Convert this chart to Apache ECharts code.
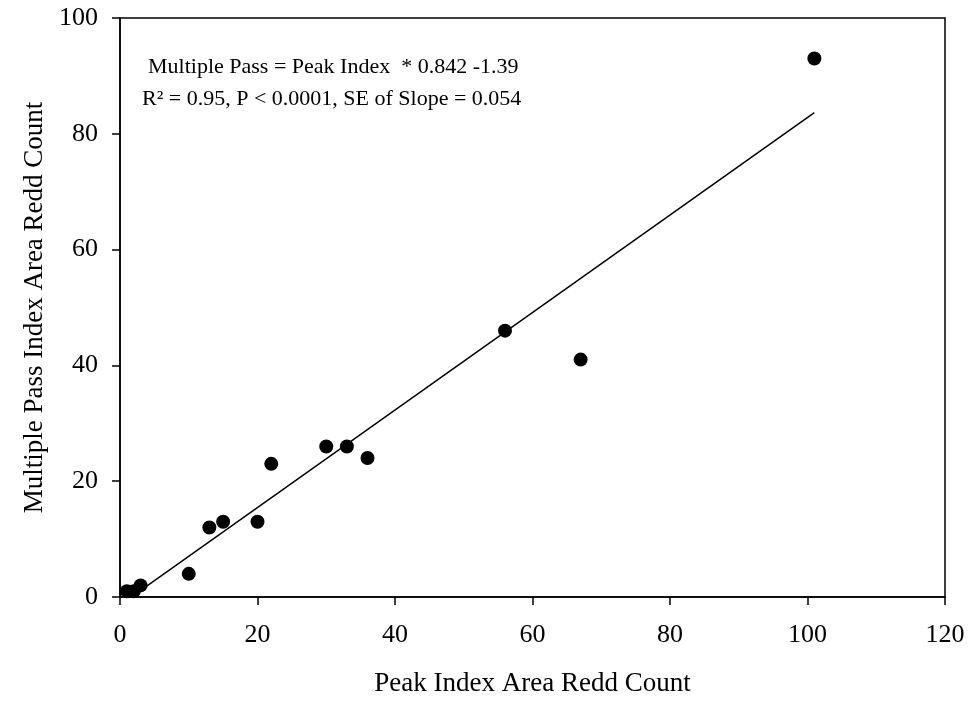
<!DOCTYPE html>
<html>
<head>
<meta charset="utf-8">
<script src="https://cdn.jsdelivr.net/npm/echarts@6/dist/echarts.min.js"></script>
<style>
  html, body { margin: 0; padding: 0; background: #fff; }
  #chart { width: 971px; height: 702px; }
</style>
</head>
<body>
<div id="chart"></div>
<script>
// peak index count vs multiple pass count
const peakIndex = [1, 2, 3, 10, 13, 15, 20, 22, 30, 33, 36, 56, 67, 101];
const multiPass = [1, 1, 2, 4, 12, 13, 13, 23, 26, 26, 24, 46, 41, 93];

// regression: Multiple Pass = Peak Index * 0.842 - 1.39
const slope = 0.842;
const intercept = -1.39;
const fitX = [1, 101];

const xTicks = [0, 20, 40, 60, 80, 100, 120];
const yTicks = [0, 20, 40, 60, 80, 100];

const fontFam = '"Liberation Serif", "DejaVu Serif", serif';

const points = peakIndex.map((x, i) => [x, multiPass[i]]);
const fitLine = fitX.map(x => [x, x * slope + intercept]);

const chart = echarts.init(document.getElementById('chart'));

const axisCommon = {
  type: 'value',
  axisLine: { show: true, lineStyle: { color: '#000', width: 1.5 } },
  axisTick: { show: true, inside: false, length: 8, lineStyle: { color: '#000', width: 1.5 } },
  axisLabel: { color: '#000', fontFamily: fontFam, fontSize: 26 },
  splitLine: { show: false },
  nameLocation: 'middle',
  nameTextStyle: { color: '#000', fontFamily: fontFam, fontSize: 27 }
};

chart.setOption({
  animation: false,
  backgroundColor: '#fff',
  grid: { left: 120, right: 26, top: 18, bottom: 105, show: true, borderColor: '#000', borderWidth: 1.5 },
  xAxis: Object.assign({}, axisCommon, {
    min: xTicks[0], max: xTicks[xTicks.length - 1], interval: 20,
    axisLabel: Object.assign({}, axisCommon.axisLabel, { margin: 25 }),
    name: 'Peak Index Area Redd Count',
    nameGap: 73
  }),
  yAxis: Object.assign({}, axisCommon, {
    min: yTicks[0], max: yTicks[yTicks.length - 1], interval: 20,
    axisLabel: Object.assign({}, axisCommon.axisLabel, { margin: 22 }),
    name: 'Multiple Pass Index Area Redd Count',
    nameGap: 70
  }),
  graphic: [
    {
      type: 'text', left: 148, top: 56,
      style: {
        text: 'Multiple Pass = Peak Index  * 0.842 -1.39',
        fill: '#000', font: '22px ' + fontFam
      }
    },
    {
      type: 'text', left: 142, top: 88,
      style: {
        text: 'R² = 0.95, P < 0.0001, SE of Slope = 0.054',
        fill: '#000', font: '22px ' + fontFam
      }
    }
  ],
  series: [
    {
      type: 'line', data: fitLine, symbol: 'none', clip: true,
      lineStyle: { color: '#000', width: 1.5 }
    },
    {
      type: 'scatter', data: points, symbol: 'circle', symbolSize: 14,
      itemStyle: { color: '#000', opacity: 1 }
    }
  ]
});
</script>
</body>
</html>
